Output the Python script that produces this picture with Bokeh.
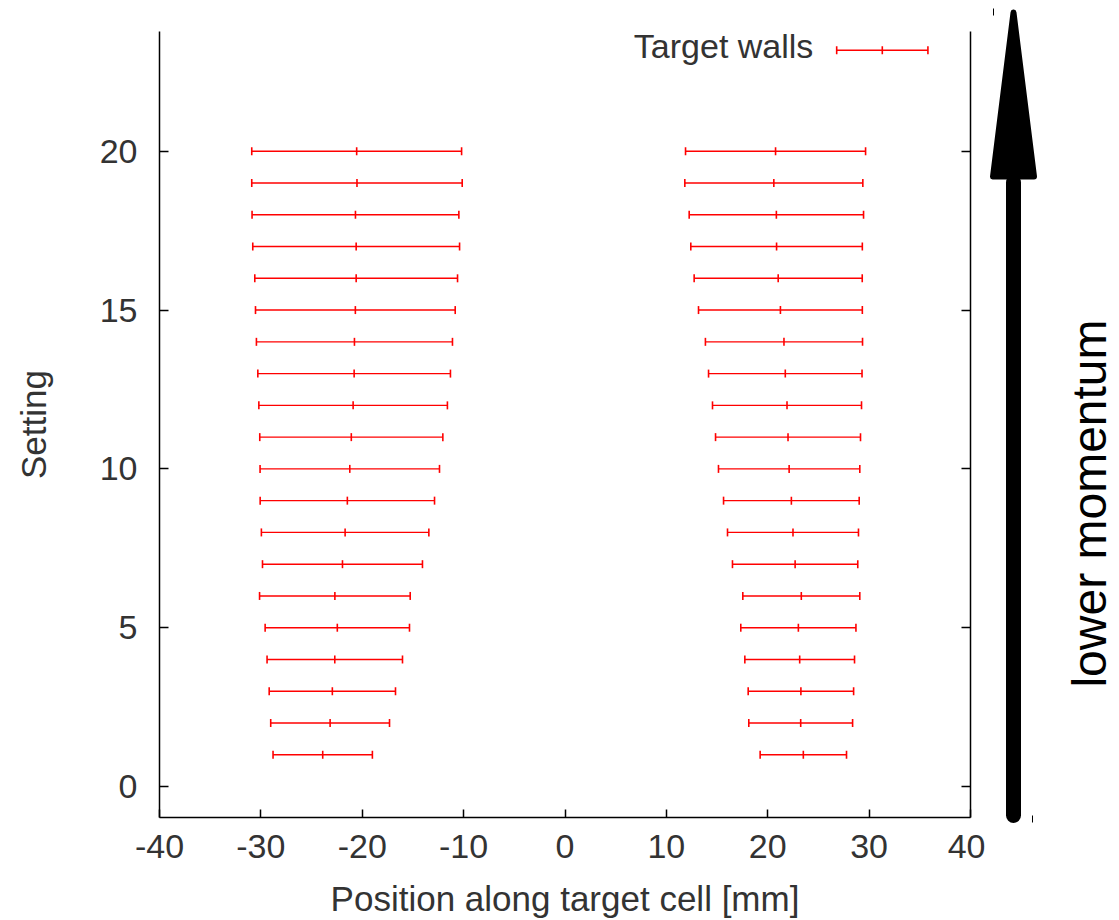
import math
from bokeh.plotting import figure
from bokeh.models import Range1d, LinearAxis, FixedTicker, ColumnDataSource
from bokeh.layouts import row
from bokeh.embed import file_html
from bokeh.resources import INLINE
from bokeh.core.properties import value

# ---------------- data ----------------
settings = list(range(1, 21))

left_center = [-23.9, -23.17, -22.95, -22.71, -22.46, -22.70, -21.95, -21.69, -21.47, -21.23,
               -21.08, -20.90, -20.80, -20.77, -20.68, -20.60, -20.60, -20.67, -20.52, -20.55]
left_err = [4.90, 5.86, 6.23, 6.68, 7.12, 7.43, 7.89, 8.26, 8.60, 8.85,
            9.03, 9.30, 9.50, 9.67, 9.85, 10.00, 10.20, 10.20, 10.38, 10.35]

right_center = [23.51, 23.25, 23.27, 23.15, 23.02, 23.31, 22.70, 22.49, 22.33, 22.11,
                22.00, 21.90, 21.73, 21.60, 21.25, 21.03, 20.87, 20.85, 20.60, 20.77]
right_err = [4.26, 5.12, 5.20, 5.41, 5.68, 5.77, 6.18, 6.46, 6.69, 6.97,
             7.15, 7.35, 7.57, 7.75, 8.08, 8.29, 8.46, 8.60, 8.78, 8.88]

x_ticks = [-40, -30, -20, -10, 0, 10, 20, 30, 40]
x_tick_labels = ["-40", "-30", "-20", "-10", "0", "10", "20", "30", "40"]
y_ticks = [0, 5, 10, 15, 20]
y_tick_labels = ["0", "5", "10", "15", "20"]

legend_label = "Target walls"
x_title = "Position along target cell [mm]"
y_title = "Setting"
side_title = "lower momentum"

# ---------------- style ----------------
FONT = "Liberation Sans"
TXT = "#333333"
RED = "#ff0000"

p = figure(width=985, height=920, output_backend="svg", toolbar_location=None,
           x_range=Range1d(-40, 40), y_range=Range1d(-0.975, 23.77),
           min_border_left=159, min_border_right=15, min_border_top=31, min_border_bottom=102,
           background_fill_color="white", border_fill_color="white")
p.frame_align = False
p.outline_line_color = None
p.grid.visible = False

for ax in (p.xaxis[0], p.yaxis[0]):
    ax.axis_line_color = "black"
    ax.axis_line_width = 1.5
    ax.major_tick_line_color = "black"
    ax.major_tick_line_width = 1.5
    ax.major_tick_out = 0
    ax.minor_tick_line_color = None
    ax.major_label_text_font = FONT
    ax.major_label_text_font_size = "34px"
    ax.major_label_text_color = TXT
    ax.axis_label_text_font = FONT
    ax.axis_label_text_font_size = "35px"
    ax.axis_label_text_color = TXT
    ax.axis_label_text_font_style = "normal"

p.xaxis[0].ticker = FixedTicker(ticks=x_ticks)
p.xaxis[0].major_label_overrides = dict(zip(x_ticks, x_tick_labels))
p.xaxis[0].major_tick_in = 8
p.xaxis[0].major_label_standoff = 17
p.xaxis[0].axis_label = x_title
p.xaxis[0].axis_label_standoff = 18

p.yaxis[0].ticker = FixedTicker(ticks=y_ticks)
p.yaxis[0].major_label_overrides = dict(zip(y_ticks, y_tick_labels))
p.yaxis[0].major_tick_in = 9
p.yaxis[0].major_label_standoff = 22
p.yaxis[0].axis_label = y_title
p.yaxis[0].axis_label_standoff = 44

# mirrored right axis: line + inward ticks, no labels drawn
rax = LinearAxis(ticker=FixedTicker(ticks=y_ticks))
rax.axis_line_color = "black"
rax.axis_line_width = 1.5
rax.major_tick_line_color = "black"
rax.major_tick_line_width = 1.5
rax.major_tick_in = 9
rax.major_tick_out = 0
rax.minor_tick_line_color = None
rax.major_label_text_color = None
rax.major_label_text_font_size = "1px"
rax.major_label_standoff = 0
p.add_layout(rax, "right")

# ---------------- error bars ----------------
def add_bars(center, err):
    src = ColumnDataSource(dict(
        y=settings, c=center,
        lo=[c - e for c, e in zip(center, err)],
        hi=[c + e for c, e in zip(center, err)],
    ))
    p.segment(x0="lo", y0="y", x1="hi", y1="y", source=src, line_color=RED, line_width=1.4)
    for col in ("lo", "hi", "c"):
        p.scatter(x=col, y="y", source=src, marker="dash", angle=math.pi / 2, size=8,
                  line_color=RED, line_width=1.6, fill_color=None)

add_bars(left_center, left_err)
add_bars(right_center, right_err)

# ---------------- legend (gnuplot style: label left of sample) ----------------
leg_y = 23.18
leg_x0, leg_x1 = 26.8, 35.8
p.text(x=[24.5], y=[23.3], text=[legend_label], text_align="right", text_baseline="middle",
       text_font=value(FONT), text_font_size="34px", text_color=TXT)
p.segment(x0=[leg_x0], y0=[leg_y], x1=[leg_x1], y1=[leg_y], line_color=RED, line_width=1.4)
p.scatter(x=[leg_x0, leg_x1, (leg_x0 + leg_x1) / 2], y=[leg_y] * 3, marker="dash",
          angle=math.pi / 2, size=8, line_color=RED, line_width=1.6)

# ---------------- side panel: arrow ----------------
s = figure(width=134, height=920, output_backend="svg", toolbar_location=None,
           x_range=Range1d(985, 1119), y_range=Range1d(920, 0),
           min_border=0, x_axis_location=None, y_axis_location=None,
           background_fill_color="white", border_fill_color="white")
s.frame_align = False
s.outline_line_color = None
s.grid.visible = False

s.line(x=[1013, 1013], y=[815, 182], line_color="black", line_width=15, line_cap="round")
s.patch(x=[992.5, 1033.5, 1013], y=[176, 176, 12], fill_color="black", line_color="black",
        line_width=6, line_join="round")
s.segment(x0=[993, 1032], y0=[8, 815], x1=[993, 1032], y1=[15, 822], line_color="black", line_width=1)
s.text(x=[1089], y=[503], text=[side_title], angle=math.pi / 2, text_align="center",
       text_baseline="middle", text_font=value(FONT), text_font_size="48px", text_color="black")

layout = row(p, s, spacing=0)
open("out.html", "w").write(file_html(layout, INLINE))
